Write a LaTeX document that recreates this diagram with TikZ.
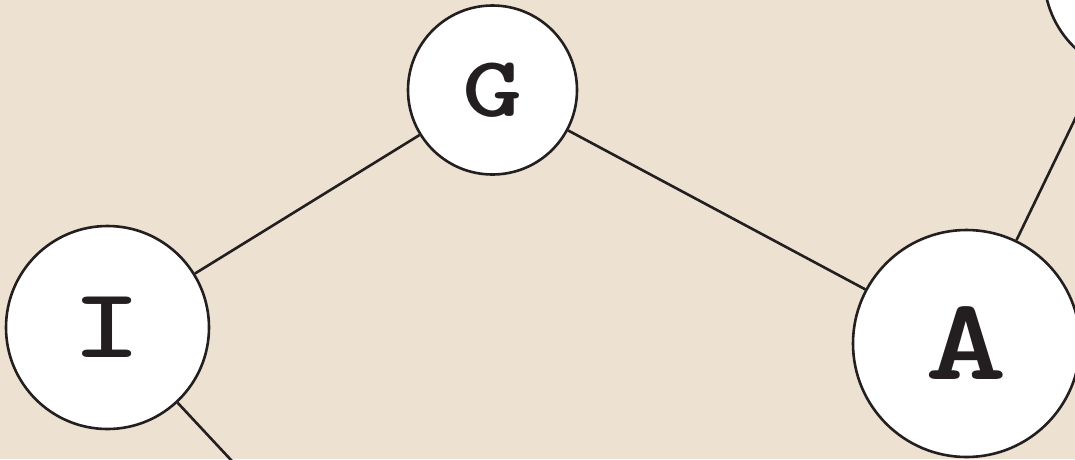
\documentclass[tikz,border=0pt]{standalone}
\usepackage{fontspec}
\usepackage{graphicx}
\usetikzlibrary{positioning}
\definecolor{paper}{HTML}{EDE2D1}
\definecolor{ink}{HTML}{231F20}
\newcommand{\widekey}[1]{\scalebox{1.33}[1]{#1}}

\tikzset{
  vertex/.style = {circle, draw = ink, fill = white, line width = 2.6pt, inner sep = 0pt, text = ink},
  edge/.style = {draw = ink, line width = 2.6pt}
}

\begin{document}
\begin{tikzpicture}[x = 1pt, y = -1pt]
\useasboundingbox (0,0) rectangle (1075,459);
\clip (0,0) rectangle (1075,459);
\fill[paper] (0,0) rectangle (1075,459);
\node[vertex, minimum size = 169pt, font = \ttfamily\bfseries\fontsize{86}{86}\selectfont] (g) at (492.5,90) {\widekey{G}};
\node[vertex, minimum size = 203pt, font = \ttfamily\bfseries\fontsize{99}{99}\selectfont] (i) at (107.5,327.5) {\widekey{I}};
\node[vertex, minimum size = 227pt, font = \ttfamily\bfseries\fontsize{117}{117}\selectfont] (a) at (966.5,343.5) {\widekey{A}};
\node[vertex, minimum size = 201pt] (up) at (1144.5,-24.7) {};
\coordinate (ibelow) at (272.5,504.5);
\draw[edge] (g) -- (i);
\draw[edge] (g) -- (a);
\draw[edge] (a) -- (up);
\draw[edge] (i) -- (ibelow);
\end{tikzpicture}
\end{document}
